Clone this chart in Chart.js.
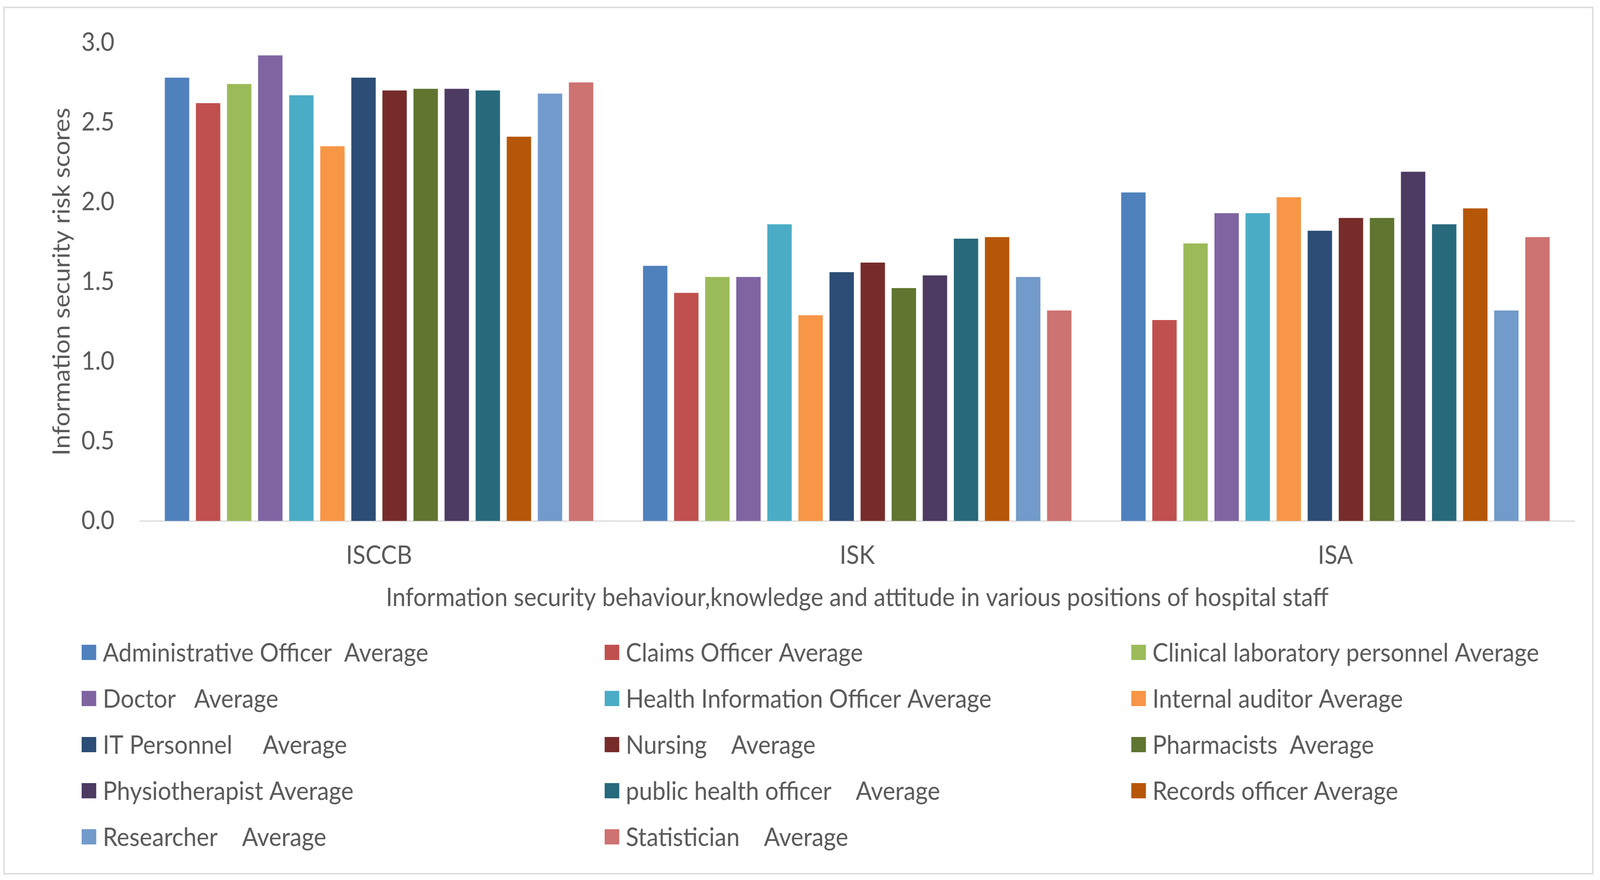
<!DOCTYPE html>
<html>
<head>
<meta charset="utf-8">
<script src="https://cdn.jsdelivr.net/npm/chart.js@4.4.1/dist/chart.umd.min.js"></script>
<style>
html,body{margin:0;padding:0;background:#ffffff;overflow:hidden;}
canvas{display:block;}
</style>
</head>
<body>
<canvas id="c" width="4390" height="2252" style="width:100vw;height:100vh"></canvas>
<script>
// ---- data ----
const categories = ['ISCCB', 'ISK', 'ISA'];
const seriesNames = [
  'Administrative Officer  Average',
  'Claims Officer Average',
  'Clinical laboratory personnel Average',
  'Doctor   Average',
  'Health Information Officer Average',
  'Internal auditor Average',
  'IT Personnel     Average',
  'Nursing    Average',
  'Pharmacists  Average',
  'Physiotherapist Average',
  'public health officer    Average',
  'Records officer Average',
  'Researcher    Average',
  'Statistician    Average'
];
const isccbValues = [2.78, 2.62, 2.74, 2.92, 2.67, 2.35, 2.78, 2.70, 2.71, 2.71, 2.70, 2.41, 2.68, 2.75];
const iskValues   = [1.60, 1.43, 1.53, 1.53, 1.86, 1.29, 1.56, 1.62, 1.46, 1.54, 1.77, 1.78, 1.53, 1.32];
const isaValues   = [2.06, 1.26, 1.74, 1.93, 1.93, 2.03, 1.82, 1.90, 1.90, 2.19, 1.86, 1.96, 1.32, 1.78];
const yTicks = [0.0, 0.5, 1.0, 1.5, 2.0, 2.5, 3.0];
const yAxisTitle = 'Information security risk scores';
const xAxisTitle = 'Information security behaviour,knowledge and attitude in various positions of hospital staff';

// ---- styles ----
const seriesColors = ['#4F81BD','#C0504D','#9BBB59','#8064A2','#4BACC6','#F79646','#2C4D75','#772C2A','#5F7530','#4D3B62','#276A7C','#B65708','#729ACA','#CD7371'];
const FONT = 'Lato';
const FS = 65;
const TXT = '#595959';

const datasets = seriesNames.map((name, i) => ({
  label: name,
  data: [isccbValues[i], iskValues[i], isaValues[i]],
  backgroundColor: seriesColors[i],
  borderWidth: 0,
  categoryPercentage: 0.91,
  barPercentage: 0.785
}));

const frame = {
  id: 'frame',
  beforeDraw(chart) {
    const ctx = chart.ctx;
    ctx.save();
    ctx.fillStyle = '#ffffff';
    ctx.fillRect(0, 0, chart.width, chart.height);
    ctx.strokeStyle = '#d9d9d9';
    ctx.lineWidth = 3.5;
    ctx.strokeRect(11, 19, 4359, 2217);
    ctx.restore();
  }
};

const gridLegend = {
  id: 'gridLegend',
  afterDraw(chart) {
    const ctx = chart.ctx;
    const colX = [224, 1659, 3104];
    const rowY = [1670, 1788, 1906, 2024, 2142];
    ctx.save();
    ctx.font = FS + 'px ' + FONT;
    ctx.textBaseline = 'middle';
    ctx.textAlign = 'left';
    chart.data.datasets.forEach((ds, i) => {
      const c = i % 3, r = Math.floor(i / 3);
      const x = colX[c], y = rowY[r];
      ctx.fillStyle = ds.backgroundColor;
      ctx.fillRect(x, y - 20, 40, 39);
      ctx.fillStyle = TXT;
      ctx.fillText(ds.label, x + 58, y + 2);
    });
    ctx.restore();
  }
};

Chart.defaults.font.family = FONT;
Chart.defaults.font.size = FS;
Chart.defaults.color = TXT;

new Chart(document.getElementById('c'), {
  type: 'bar',
  data: { labels: categories, datasets },
  options: {
    responsive: false,
    devicePixelRatio: 1,
    animation: false,
    layout: { padding: { left: 0, right: 70, top: 95, bottom: 679 } },
    plugins: { legend: { display: false }, tooltip: { enabled: false } },
    scales: {
      x: {
        grid: { display: false, drawTicks: false },
        border: { display: true, color: '#d9d9d9', width: 3 },
        ticks: { padding: 50, color: TXT, font: { size: FS, family: FONT } },
        title: { display: true, text: xAxisTitle, color: TXT, font: { size: FS, family: FONT }, padding: { top: 0, bottom: 4 } },
        afterFit(s) { s.height = 240; }
      },
      y: {
        min: 0, max: 3,
        grid: { display: false, drawTicks: false },
        border: { display: false },
        afterBuildTicks(s) { s.ticks = yTicks.map(v => ({ value: v })); },
        ticks: { padding: 70, color: TXT, font: { size: FS, family: FONT }, callback: v => Number(v).toFixed(1) },
        title: { display: true, text: yAxisTitle, color: TXT, font: { size: FS, family: FONT }, padding: { top: 131, bottom: 0 } },
        afterFit(s) { s.width = 384; }
      }
    }
  },
  plugins: [frame, gridLegend]
});
</script>
</body>
</html>
